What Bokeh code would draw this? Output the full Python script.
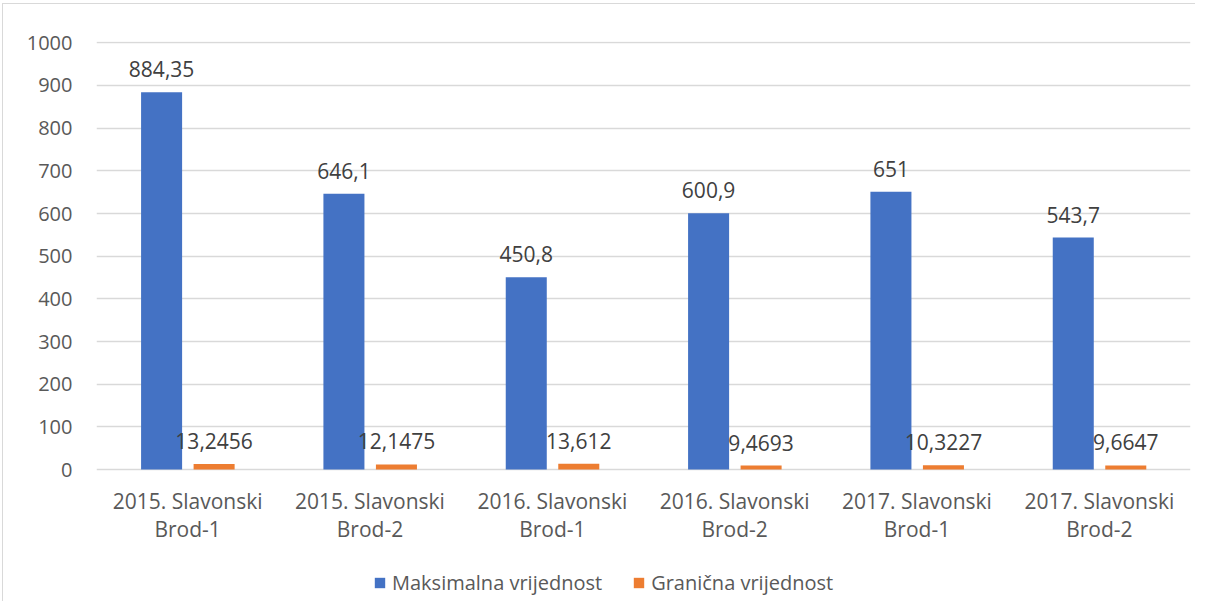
from bokeh.plotting import figure
from bokeh.models import ColumnDataSource, Legend, LegendItem, FactorRange
from bokeh.transform import dodge
from bokeh.embed import file_html
from bokeh.resources import INLINE
from bokeh.core.properties import value

categories = ["2015. Slavonski Brod-1", "2015. Slavonski Brod-2", "2016. Slavonski Brod-1",
              "2016. Slavonski Brod-2", "2017. Slavonski Brod-1", "2017. Slavonski Brod-2"]
maks = [884.35, 646.1, 450.8, 600.9, 651, 543.7]
gran = [13.2456, 12.1475, 13.612, 9.4693, 10.3227, 9.6647]
maks_labels = ["884,35", "646,1", "450,8", "600,9", "651", "543,7"]
gran_labels = ["13,2456", "12,1475", "13,612", "9,4693", "10,3227", "9,6647"]
series_names = ["Maksimalna vrijednost", "Granična vrijednost"]
y_ticks = [0, 100, 200, 300, 400, 500, 600, 700, 800, 900, 1000]

BLUE = "#4472C4"
ORANGE = "#ED7D31"
FONT = "Open Sans"

line1 = [c.rsplit(" ", 1)[0] for c in categories]
line2 = [c.rsplit(" ", 1)[1] for c in categories]
src = ColumnDataSource(dict(cat=categories, maks=maks, gran=gran,
                            ml=maks_labels, gl=gran_labels,
                            l1=line1, l2=line2, base=[0] * len(categories)))

# the frame reaches below zero so that the category labels and legend live inside it
p = figure(x_range=FactorRange(*categories), y_range=(-309, 1003),
           frame_width=1094, frame_height=560, output_backend="svg", toolbar_location=None,
           min_border_left=93, min_border_right=5, min_border_top=37, min_border_bottom=0)
p.outline_line_color = None
p.styles = {"border-left": "1px solid #D9D9D9", "border-top": "1px solid #D9D9D9",
            "margin-left": "2px", "margin-top": "3px"}

r1 = p.vbar(x=dodge("cat", -0.143, range=p.x_range), top="maks", width=0.225,
            source=src, color=BLUE, line_color=None)
r2 = p.vbar(x=dodge("cat", 0.145, range=p.x_range), top="gran", width=0.225,
            source=src, color=ORANGE, line_color=None)

p.text(x=dodge("cat", -0.143, range=p.x_range), y="maks", text="ml", source=src,
       text_align="center", text_baseline="bottom", y_offset=-15,
       text_font=value(FONT), text_font_size="21px", text_color="#404040")
p.text(x=dodge("cat", 0.145, range=p.x_range), y="gran", text="gl", source=src,
       text_align="center", text_baseline="bottom", y_offset=-15,
       text_font=value(FONT), text_font_size="21px", text_color="#404040")

# category labels (two lines)
p.text(x="cat", y="base", text="l1", source=src, text_align="center",
       text_baseline="middle", y_offset=31,
       text_font=value(FONT), text_font_size="21px", text_color="#595959")
p.text(x="cat", y="base", text="l2", source=src, text_align="center",
       text_baseline="middle", y_offset=59,
       text_font=value(FONT), text_font_size="21px", text_color="#595959")

p.xaxis.visible = False
p.xgrid.grid_line_color = None
p.ygrid.grid_line_color = "#D9D9D9"
p.ygrid.grid_line_width = 1.5
p.yaxis.ticker = y_ticks
p.x_range.range_padding = 0
p.x_range.factor_padding = 0

ax = p.yaxis[0]
ax.axis_line_color = None
ax.major_tick_line_color = None
ax.minor_tick_line_color = None
ax.major_label_text_font = FONT
ax.major_label_text_color = "#595959"
ax.major_label_text_font_size = "20px"
ax.major_label_standoff = 18

legend = Legend(items=[LegendItem(label=series_names[0], renderers=[r1]),
                       LegendItem(label=series_names[1], renderers=[r2])],
                orientation="horizontal", location=(277, 5),
                label_text_font=FONT, label_text_font_size="20px", label_text_color="#595959",
                glyph_width=13, glyph_height=13, label_standoff=6, spacing=30,
                border_line_color=None, background_fill_alpha=0, margin=0, padding=0)
p.add_layout(legend, "center")

open("out.html", "w").write(file_html(p, INLINE))
